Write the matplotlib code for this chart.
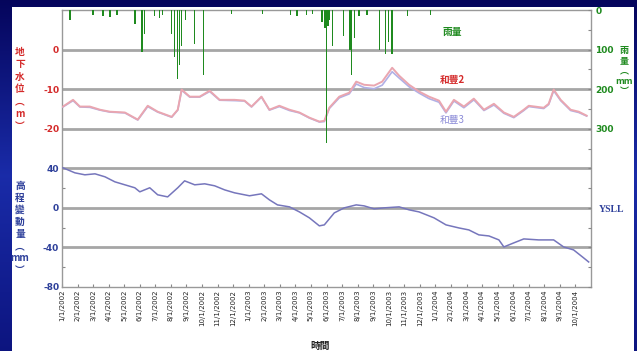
import numpy as np
import matplotlib
matplotlib.use("Agg")
import matplotlib.pyplot as plt
from matplotlib.patches import Rectangle
from matplotlib.ticker import FixedLocator, MultipleLocator

plt.rcParams['font.family'] = ['Noto Sans CJK TC', 'DejaVu Sans']
plt.rcParams['axes.unicode_minus'] = False

# ---- data (x positions are months counted from 1/1/2002) ----
tick_labels = [f"{m}/1/{y}" for y in (2002, 2003, 2004) for m in range(1, 13)][:34]

rain_t = [0.51, 1.99, 2.63, 3.08, 3.53, 4.68, 5.13, 5.32, 5.96, 6.28, 6.47,
          7.05, 7.24, 7.44, 7.56, 7.69, 7.95, 8.53, 9.10, 10.9, 12.9, 14.7,
          15.1, 15.7, 16.1, 16.7, 16.9, 17.0, 17.1, 17.2, 17.4, 18.1, 18.5,
          18.6, 18.8, 19.1, 19.6, 20.4, 20.8, 21.0, 21.2, 22.2, 23.7]
rain_mm = [25, 12, 15, 18, 12, 35, 105, 60, 15, 20, 12,
           60, 120, 175, 140, 90, 25, 85, 165, 10, 10, 12,
           15, 12, 10, 30, 45, 335, 40, 25, 90, 65, 100,
           165, 70, 15, 12, 100, 110, 80, 112, 15, 12]

level_t = [0.06, 0.71, 1.15, 1.79, 2.44, 3.08, 4.04, 4.87, 5.51, 6.15, 7.05,
           7.44, 7.69, 8.21, 8.85, 9.49, 10.13, 11.09, 11.73, 12.18, 12.82,
           13.33, 13.97, 14.62, 15.26, 15.90, 16.54, 16.86, 17.18, 17.82,
           18.46, 18.91, 19.42, 20.06, 20.58, 21.22, 21.67, 22.31, 22.95,
           23.59, 24.23, 24.68, 25.19, 25.83, 26.47, 27.12, 27.76, 28.40,
           29.04, 29.68, 30.00, 30.96, 31.28, 31.60, 32.05, 32.69, 33.21, 33.72]
hefeng2 = [-14.4, -12.7, -14.4, -14.4, -15.2, -15.7, -15.9, -17.7, -14.2, -15.7,
           -17.0, -15.2, -10.1, -11.9, -11.9, -10.4, -12.7, -12.7, -12.9, -14.4,
           -11.9, -15.2, -14.2, -15.2, -15.9, -17.2, -18.2, -18.0, -14.7, -11.9,
           -10.9, -8.1, -8.9, -9.1, -8.1, -4.6, -6.6, -8.9, -10.6, -11.9, -12.9,
           -15.7, -12.7, -14.4, -12.4, -15.2, -13.7, -15.9, -17.0, -15.2, -14.2,
           -14.7, -13.7, -10.1, -12.7, -15.2, -15.7, -16.7]
hefeng3 = [-14.5, -12.9, -14.5, -14.6, -15.3, -15.8, -16.0, -17.8, -14.4, -15.8,
           -17.1, -15.3, -10.3, -12.0, -12.0, -10.6, -12.8, -12.9, -13.0, -14.5,
           -12.0, -15.3, -14.4, -15.4, -16.0, -17.3, -18.3, -18.2, -14.9, -12.2,
           -11.2, -8.7, -9.6, -9.9, -9.0, -5.6, -7.2, -9.4, -11.0, -12.4, -13.3,
           -16.0, -13.0, -14.7, -12.7, -15.4, -14.0, -16.1, -17.2, -15.4, -14.4,
           -14.9, -13.9, -10.4, -12.9, -15.4, -15.9, -16.8]

ysll_t = [0.06, 0.83, 1.47, 2.12, 2.76, 3.40, 4.04, 4.68, 5.00, 5.64, 6.15,
          6.79, 7.44, 7.88, 8.53, 9.17, 9.81, 10.45, 11.09, 12.05, 12.82,
          13.33, 13.85, 14.62, 15.26, 15.90, 16.54, 16.86, 17.50, 18.14,
          18.91, 19.42, 20.06, 20.71, 21.67, 22.31, 22.95, 23.91, 24.68,
          25.51, 26.15, 26.79, 27.44, 28.08, 28.40, 29.04, 29.68, 30.64,
          31.60, 32.24, 32.88, 33.53, 33.85]
ysll = [40.5, 35.4, 33.4, 34.4, 31.4, 26.3, 23.3, 20.3, 16.2, 20.3, 13.2,
        11.1, 20.3, 27.3, 23.3, 24.3, 22.3, 18.2, 15.2, 12.2, 14.2,
        8.1, 3.0, 1.0, -4.1, -10.1, -18.2, -17.2, -5.1, 0.0,
        3.0, 2.0, -1.0, 0.0, 1.0, -2.0, -4.1, -10.1, -17.2,
        -20.3, -22.3, -27.3, -28.4, -32.4, -39.5, -35.4, -31.4, -32.4,
        -32.4, -39.5, -42.5, -50.6, -54.7]

# ---- colours ----
RED = '#d42a2a'
BLUE = '#2d3f9a'
GREEN = '#1f8a1f'
PINK = '#eaa6b0'
LAVENDER = '#b0b0e6'
SLATE = '#7676bc'
GRID = '#a6a6a6'

W, H = 637, 351
fig = plt.figure(figsize=(W / 100, H / 100), dpi=100)

# slide background
bg = fig.add_axes([0, 0, 1, 1], zorder=-10)
grad = np.linspace(0, 1, 256).reshape(-1, 1)
top = np.array([0.02, 0.02, 0.36])
mid = np.array([0.10, 0.17, 0.66])
bot = np.array([0.05, 0.08, 0.50])
cols = np.where(grad[..., None] < 0.5,
                top + (mid - top) * (grad[..., None] / 0.5),
                mid + (bot - mid) * ((grad[..., None] - 0.5) / 0.5))
bg.imshow(cols, aspect='auto', extent=[0, 1, 0, 1], origin='upper')
bg.add_patch(Rectangle((12 / W, 0), (634 - 12) / W, 1 - 7 / H,
                       facecolor='white', edgecolor='none'))
bg.set_xlim(0, 1)
bg.set_ylim(0, 1)
bg.axis('off')

# main axes: land subsidence
ax = fig.add_axes([62 / W, 1 - 287 / H, (591 - 62) / W, (287 - 10) / H])
ax.set_facecolor('none')
ax.set_xlim(0, 34)
ax.set_ylim(-80, 200)
for v in (-40, 0, 40, 80, 120, 160):
    ax.axhline(v, color=GRID, lw=2.0, zorder=1)
ax.plot(ysll_t, ysll, color=SLATE, lw=1.1, zorder=3)

ax.set_yticks([-80, -40, 0, 40])
ax.set_yticklabels(['-80', '-40', '0', '40'], color=BLUE, fontsize=6.5,
                   fontweight='bold', family=['DejaVu Sans'])
ax.yaxis.set_minor_locator(FixedLocator([-60, -20, 20]))
ax.set_xticks(range(34))
ax.set_xticklabels(tick_labels, rotation=90, fontsize=5.0, color='#222222',
                   family=['DejaVu Sans'])
ax.tick_params(axis='both', which='both', direction='in', color='#888888',
               length=2.5, width=0.8, pad=2)
ax.tick_params(axis='y', which='major', length=0)
for s in ax.spines.values():
    s.set_color('#999999')
    s.set_linewidth(1.0)

# groundwater level
ax2 = ax.twinx()
ax2.set_ylim(-60, 10)
ax2.plot(level_t, hefeng3, color=LAVENDER, lw=1.2, zorder=2)
ax2.plot(level_t, hefeng2, color=PINK, lw=1.4, zorder=3)
ax2.yaxis.tick_left()
ax2.set_yticks([-20, -10, 0])
ax2.set_yticklabels(['-20', '-10', '0'], color=RED, fontsize=6.5,
                    fontweight='bold', family=['DejaVu Sans'])
ax2.tick_params(axis='y', length=0, pad=2)
for s in ax2.spines.values():
    s.set_visible(False)

# rainfall, hanging from the top
ax3 = ax.twinx()
ax3.set_ylim(700, 0)
ax3.bar(rain_t, rain_mm, width=0.09, color=GREEN, edgecolor='none',
        align='center', zorder=2)
ax3.set_yticks([0, 100, 200, 300])
ax3.set_yticklabels(['0', '100', '200', '300'], color=GREEN, fontsize=6.5,
                    fontweight='bold', family=['DejaVu Sans'])
ax3.yaxis.set_minor_locator(MultipleLocator(50))
ax3.tick_params(axis='y', which='both', direction='in', color='#888888',
                length=2.5, width=0.8, pad=3)
for s in ax3.spines.values():
    s.set_visible(False)

# axis titles written vertically
fig.text(20 / W, 1 - 89 / H, '地\n下\n水\n位\n︵\nm\n︶', color=RED,
         fontsize=7, fontweight='bold', ha='center', va='center',
         linespacing=1.3)
fig.text(20 / W, 1 - 228 / H, '高\n程\n變\n動\n量\n︵\nmm\n︶', color=BLUE,
         fontsize=7, fontweight='bold', ha='center', va='center',
         linespacing=1.25)
fig.text(624 / W, 1 - 71 / H, '雨\n量\n︵\nmm\n︶', color=GREEN,
         fontsize=6.5, fontweight='bold', ha='center', va='center',
         linespacing=1.2)

# series labels
fig.text(452 / W, 1 - 32 / H, '雨量', color=GREEN, fontsize=7,
         fontweight='bold', ha='center', va='center')
fig.text(452 / W, 1 - 80 / H, '和豐2', color=RED, fontsize=7,
         fontweight='bold', ha='center', va='center')
fig.text(452 / W, 1 - 120 / H, '和豐3', color='#8c8cd8', fontsize=7,
         ha='center', va='center')
fig.text(612 / W, 1 - 209 / H, 'YSLL', color=BLUE, fontsize=7,
         fontweight='bold', ha='center', va='center',
         family=['Liberation Serif'])
fig.text(320 / W, 1 - 346 / H, '時間', color='#222222', fontsize=7,
         fontweight='bold', ha='center', va='center')

fig.savefig('out.png', dpi=100)
